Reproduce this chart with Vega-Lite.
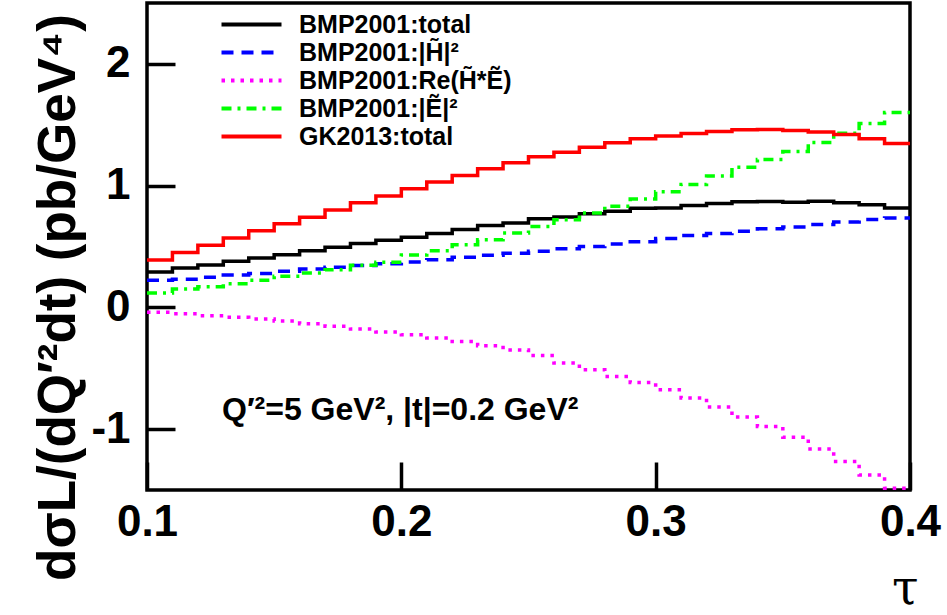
{
  "$schema": "https://vega.github.io/schema/vega-lite/v6.json",
  "width": 763,
  "height": 487,
  "autosize": {"type": "none"},
  "padding": {"left": 147, "top": 3, "right": 37, "bottom": 125},
  "background": "white",
  "config": {
    "view": {"stroke": "black", "strokeWidth": 3.5},
    "font": "Liberation Sans"
  },
  "datasets": {
    "curves": [
      {"series": "BMP2001:total", "tau": 0.10, "v": 0.290},
      {"series": "BMP2001:total", "tau": 0.11, "v": 0.324},
      {"series": "BMP2001:total", "tau": 0.12, "v": 0.349},
      {"series": "BMP2001:total", "tau": 0.13, "v": 0.378},
      {"series": "BMP2001:total", "tau": 0.14, "v": 0.406},
      {"series": "BMP2001:total", "tau": 0.15, "v": 0.433},
      {"series": "BMP2001:total", "tau": 0.16, "v": 0.466},
      {"series": "BMP2001:total", "tau": 0.17, "v": 0.493},
      {"series": "BMP2001:total", "tau": 0.18, "v": 0.524},
      {"series": "BMP2001:total", "tau": 0.19, "v": 0.551},
      {"series": "BMP2001:total", "tau": 0.20, "v": 0.575},
      {"series": "BMP2001:total", "tau": 0.21, "v": 0.606},
      {"series": "BMP2001:total", "tau": 0.22, "v": 0.639},
      {"series": "BMP2001:total", "tau": 0.23, "v": 0.672},
      {"series": "BMP2001:total", "tau": 0.24, "v": 0.694},
      {"series": "BMP2001:total", "tau": 0.25, "v": 0.727},
      {"series": "BMP2001:total", "tau": 0.26, "v": 0.743},
      {"series": "BMP2001:total", "tau": 0.27, "v": 0.770},
      {"series": "BMP2001:total", "tau": 0.28, "v": 0.790},
      {"series": "BMP2001:total", "tau": 0.29, "v": 0.815},
      {"series": "BMP2001:total", "tau": 0.30, "v": 0.817},
      {"series": "BMP2001:total", "tau": 0.31, "v": 0.836},
      {"series": "BMP2001:total", "tau": 0.32, "v": 0.853},
      {"series": "BMP2001:total", "tau": 0.33, "v": 0.868},
      {"series": "BMP2001:total", "tau": 0.34, "v": 0.870},
      {"series": "BMP2001:total", "tau": 0.35, "v": 0.864},
      {"series": "BMP2001:total", "tau": 0.36, "v": 0.872},
      {"series": "BMP2001:total", "tau": 0.37, "v": 0.860},
      {"series": "BMP2001:total", "tau": 0.38, "v": 0.842},
      {"series": "BMP2001:total", "tau": 0.39, "v": 0.817},
      {"series": "BMP2001:total", "tau": 0.40, "v": 0.817},

      {"series": "BMP2001:|H\u0303|\u00b2", "tau": 0.10, "v": 0.222},
      {"series": "BMP2001:|H\u0303|\u00b2", "tau": 0.11, "v": 0.232},
      {"series": "BMP2001:|H\u0303|\u00b2", "tau": 0.12, "v": 0.247},
      {"series": "BMP2001:|H\u0303|\u00b2", "tau": 0.13, "v": 0.265},
      {"series": "BMP2001:|H\u0303|\u00b2", "tau": 0.14, "v": 0.279},
      {"series": "BMP2001:|H\u0303|\u00b2", "tau": 0.15, "v": 0.296},
      {"series": "BMP2001:|H\u0303|\u00b2", "tau": 0.16, "v": 0.316},
      {"series": "BMP2001:|H\u0303|\u00b2", "tau": 0.17, "v": 0.330},
      {"series": "BMP2001:|H\u0303|\u00b2", "tau": 0.18, "v": 0.344},
      {"series": "BMP2001:|H\u0303|\u00b2", "tau": 0.19, "v": 0.359},
      {"series": "BMP2001:|H\u0303|\u00b2", "tau": 0.20, "v": 0.372},
      {"series": "BMP2001:|H\u0303|\u00b2", "tau": 0.21, "v": 0.392},
      {"series": "BMP2001:|H\u0303|\u00b2", "tau": 0.22, "v": 0.411},
      {"series": "BMP2001:|H\u0303|\u00b2", "tau": 0.23, "v": 0.428},
      {"series": "BMP2001:|H\u0303|\u00b2", "tau": 0.24, "v": 0.445},
      {"series": "BMP2001:|H\u0303|\u00b2", "tau": 0.25, "v": 0.462},
      {"series": "BMP2001:|H\u0303|\u00b2", "tau": 0.26, "v": 0.481},
      {"series": "BMP2001:|H\u0303|\u00b2", "tau": 0.27, "v": 0.500},
      {"series": "BMP2001:|H\u0303|\u00b2", "tau": 0.28, "v": 0.520},
      {"series": "BMP2001:|H\u0303|\u00b2", "tau": 0.29, "v": 0.540},
      {"series": "BMP2001:|H\u0303|\u00b2", "tau": 0.30, "v": 0.565},
      {"series": "BMP2001:|H\u0303|\u00b2", "tau": 0.31, "v": 0.590},
      {"series": "BMP2001:|H\u0303|\u00b2", "tau": 0.32, "v": 0.606},
      {"series": "BMP2001:|H\u0303|\u00b2", "tau": 0.33, "v": 0.625},
      {"series": "BMP2001:|H\u0303|\u00b2", "tau": 0.34, "v": 0.645},
      {"series": "BMP2001:|H\u0303|\u00b2", "tau": 0.35, "v": 0.661},
      {"series": "BMP2001:|H\u0303|\u00b2", "tau": 0.36, "v": 0.680},
      {"series": "BMP2001:|H\u0303|\u00b2", "tau": 0.37, "v": 0.702},
      {"series": "BMP2001:|H\u0303|\u00b2", "tau": 0.38, "v": 0.721},
      {"series": "BMP2001:|H\u0303|\u00b2", "tau": 0.39, "v": 0.735},
      {"series": "BMP2001:|H\u0303|\u00b2", "tau": 0.40, "v": 0.735},

      {"series": "BMP2001:Re(H\u0303*\u1ebc)", "tau": 0.10, "v": -0.041},
      {"series": "BMP2001:Re(H\u0303*\u1ebc)", "tau": 0.11, "v": -0.052},
      {"series": "BMP2001:Re(H\u0303*\u1ebc)", "tau": 0.12, "v": -0.068},
      {"series": "BMP2001:Re(H\u0303*\u1ebc)", "tau": 0.13, "v": -0.082},
      {"series": "BMP2001:Re(H\u0303*\u1ebc)", "tau": 0.14, "v": -0.095},
      {"series": "BMP2001:Re(H\u0303*\u1ebc)", "tau": 0.15, "v": -0.112},
      {"series": "BMP2001:Re(H\u0303*\u1ebc)", "tau": 0.16, "v": -0.134},
      {"series": "BMP2001:Re(H\u0303*\u1ebc)", "tau": 0.17, "v": -0.156},
      {"series": "BMP2001:Re(H\u0303*\u1ebc)", "tau": 0.18, "v": -0.178},
      {"series": "BMP2001:Re(H\u0303*\u1ebc)", "tau": 0.19, "v": -0.202},
      {"series": "BMP2001:Re(H\u0303*\u1ebc)", "tau": 0.20, "v": -0.224},
      {"series": "BMP2001:Re(H\u0303*\u1ebc)", "tau": 0.21, "v": -0.252},
      {"series": "BMP2001:Re(H\u0303*\u1ebc)", "tau": 0.22, "v": -0.280},
      {"series": "BMP2001:Re(H\u0303*\u1ebc)", "tau": 0.23, "v": -0.315},
      {"series": "BMP2001:Re(H\u0303*\u1ebc)", "tau": 0.24, "v": -0.350},
      {"series": "BMP2001:Re(H\u0303*\u1ebc)", "tau": 0.25, "v": -0.395},
      {"series": "BMP2001:Re(H\u0303*\u1ebc)", "tau": 0.26, "v": -0.457},
      {"series": "BMP2001:Re(H\u0303*\u1ebc)", "tau": 0.27, "v": -0.512},
      {"series": "BMP2001:Re(H\u0303*\u1ebc)", "tau": 0.28, "v": -0.567},
      {"series": "BMP2001:Re(H\u0303*\u1ebc)", "tau": 0.29, "v": -0.617},
      {"series": "BMP2001:Re(H\u0303*\u1ebc)", "tau": 0.30, "v": -0.677},
      {"series": "BMP2001:Re(H\u0303*\u1ebc)", "tau": 0.31, "v": -0.745},
      {"series": "BMP2001:Re(H\u0303*\u1ebc)", "tau": 0.32, "v": -0.819},
      {"series": "BMP2001:Re(H\u0303*\u1ebc)", "tau": 0.33, "v": -0.900},
      {"series": "BMP2001:Re(H\u0303*\u1ebc)", "tau": 0.34, "v": -0.978},
      {"series": "BMP2001:Re(H\u0303*\u1ebc)", "tau": 0.35, "v": -1.066},
      {"series": "BMP2001:Re(H\u0303*\u1ebc)", "tau": 0.36, "v": -1.164},
      {"series": "BMP2001:Re(H\u0303*\u1ebc)", "tau": 0.37, "v": -1.266},
      {"series": "BMP2001:Re(H\u0303*\u1ebc)", "tau": 0.38, "v": -1.376},
      {"series": "BMP2001:Re(H\u0303*\u1ebc)", "tau": 0.39, "v": -1.485},
      {"series": "BMP2001:Re(H\u0303*\u1ebc)", "tau": 0.40, "v": -1.485},

      {"series": "BMP2001:|\u1ebc|\u00b2", "tau": 0.10, "v": 0.118},
      {"series": "BMP2001:|\u1ebc|\u00b2", "tau": 0.11, "v": 0.150},
      {"series": "BMP2001:|\u1ebc|\u00b2", "tau": 0.12, "v": 0.170},
      {"series": "BMP2001:|\u1ebc|\u00b2", "tau": 0.13, "v": 0.195},
      {"series": "BMP2001:|\u1ebc|\u00b2", "tau": 0.14, "v": 0.222},
      {"series": "BMP2001:|\u1ebc|\u00b2", "tau": 0.15, "v": 0.255},
      {"series": "BMP2001:|\u1ebc|\u00b2", "tau": 0.16, "v": 0.283},
      {"series": "BMP2001:|\u1ebc|\u00b2", "tau": 0.17, "v": 0.310},
      {"series": "BMP2001:|\u1ebc|\u00b2", "tau": 0.18, "v": 0.345},
      {"series": "BMP2001:|\u1ebc|\u00b2", "tau": 0.19, "v": 0.370},
      {"series": "BMP2001:|\u1ebc|\u00b2", "tau": 0.20, "v": 0.430},
      {"series": "BMP2001:|\u1ebc|\u00b2", "tau": 0.21, "v": 0.465},
      {"series": "BMP2001:|\u1ebc|\u00b2", "tau": 0.22, "v": 0.515},
      {"series": "BMP2001:|\u1ebc|\u00b2", "tau": 0.23, "v": 0.555},
      {"series": "BMP2001:|\u1ebc|\u00b2", "tau": 0.24, "v": 0.610},
      {"series": "BMP2001:|\u1ebc|\u00b2", "tau": 0.25, "v": 0.665},
      {"series": "BMP2001:|\u1ebc|\u00b2", "tau": 0.26, "v": 0.720},
      {"series": "BMP2001:|\u1ebc|\u00b2", "tau": 0.27, "v": 0.775},
      {"series": "BMP2001:|\u1ebc|\u00b2", "tau": 0.28, "v": 0.830},
      {"series": "BMP2001:|\u1ebc|\u00b2", "tau": 0.29, "v": 0.890},
      {"series": "BMP2001:|\u1ebc|\u00b2", "tau": 0.30, "v": 0.950},
      {"series": "BMP2001:|\u1ebc|\u00b2", "tau": 0.31, "v": 1.010},
      {"series": "BMP2001:|\u1ebc|\u00b2", "tau": 0.32, "v": 1.080},
      {"series": "BMP2001:|\u1ebc|\u00b2", "tau": 0.33, "v": 1.150},
      {"series": "BMP2001:|\u1ebc|\u00b2", "tau": 0.34, "v": 1.215},
      {"series": "BMP2001:|\u1ebc|\u00b2", "tau": 0.35, "v": 1.280},
      {"series": "BMP2001:|\u1ebc|\u00b2", "tau": 0.36, "v": 1.355},
      {"series": "BMP2001:|\u1ebc|\u00b2", "tau": 0.37, "v": 1.430},
      {"series": "BMP2001:|\u1ebc|\u00b2", "tau": 0.38, "v": 1.510},
      {"series": "BMP2001:|\u1ebc|\u00b2", "tau": 0.39, "v": 1.600},
      {"series": "BMP2001:|\u1ebc|\u00b2", "tau": 0.40, "v": 1.600},

      {"series": "GK2013:total", "tau": 0.10, "v": 0.390},
      {"series": "GK2013:total", "tau": 0.11, "v": 0.450},
      {"series": "GK2013:total", "tau": 0.12, "v": 0.510},
      {"series": "GK2013:total", "tau": 0.13, "v": 0.570},
      {"series": "GK2013:total", "tau": 0.14, "v": 0.630},
      {"series": "GK2013:total", "tau": 0.15, "v": 0.686},
      {"series": "GK2013:total", "tau": 0.16, "v": 0.740},
      {"series": "GK2013:total", "tau": 0.17, "v": 0.800},
      {"series": "GK2013:total", "tau": 0.18, "v": 0.860},
      {"series": "GK2013:total", "tau": 0.19, "v": 0.915},
      {"series": "GK2013:total", "tau": 0.20, "v": 0.975},
      {"series": "GK2013:total", "tau": 0.21, "v": 1.030},
      {"series": "GK2013:total", "tau": 0.22, "v": 1.083},
      {"series": "GK2013:total", "tau": 0.23, "v": 1.138},
      {"series": "GK2013:total", "tau": 0.24, "v": 1.187},
      {"series": "GK2013:total", "tau": 0.25, "v": 1.237},
      {"series": "GK2013:total", "tau": 0.26, "v": 1.275},
      {"series": "GK2013:total", "tau": 0.27, "v": 1.316},
      {"series": "GK2013:total", "tau": 0.28, "v": 1.352},
      {"series": "GK2013:total", "tau": 0.29, "v": 1.385},
      {"series": "GK2013:total", "tau": 0.30, "v": 1.408},
      {"series": "GK2013:total", "tau": 0.31, "v": 1.428},
      {"series": "GK2013:total", "tau": 0.32, "v": 1.445},
      {"series": "GK2013:total", "tau": 0.33, "v": 1.458},
      {"series": "GK2013:total", "tau": 0.34, "v": 1.460},
      {"series": "GK2013:total", "tau": 0.35, "v": 1.452},
      {"series": "GK2013:total", "tau": 0.36, "v": 1.440},
      {"series": "GK2013:total", "tau": 0.37, "v": 1.420},
      {"series": "GK2013:total", "tau": 0.38, "v": 1.385},
      {"series": "GK2013:total", "tau": 0.39, "v": 1.346},
      {"series": "GK2013:total", "tau": 0.40, "v": 1.346}
    ],
    "note": [
      {"tau": 0.1295, "v": -0.845, "label": "Q\u2032\u00b2=5 GeV\u00b2, |t|=0.2 GeV\u00b2"}
    ]
  },
  "layer": [
    {
      "mark": {"type": "rule", "color": "black", "strokeWidth": 1.2, "strokeDash": [6, 2, 1, 2]},
      "encoding": {"y": {"datum": 0, "type": "quantitative"}}
    },
    {
      "data": {"name": "curves"},
      "mark": {"type": "line", "interpolate": "step-after", "strokeWidth": 3.5, "clip": true},
      "encoding": {
        "x": {
          "field": "tau", "type": "quantitative",
          "scale": {"domain": [0.1, 0.4], "nice": false, "zero": false},
          "axis": {
            "values": [0.1, 0.2, 0.3, 0.4], "format": ".1f",
            "domain": false, "grid": false,
            "tickSize": -28, "tickWidth": 3.5, "tickColor": "black",
            "labelFont": "Liberation Sans", "labelFontSize": 44, "labelFontWeight": "bold",
            "labelColor": "black", "labelPadding": 38, "labelFlush": false,
            "title": "\u03c4", "titleFont": "DejaVu Serif", "titleFontSize": 48,
            "titleFontWeight": "normal", "titleColor": "black",
            "titleX": 771, "titleY": 123, "titleAlign": "right", "titleBaseline": "bottom"
          }
        },
        "y": {
          "field": "v", "type": "quantitative",
          "scale": {"domain": [-1.5, 2.5], "nice": false, "zero": false},
          "axis": {
            "values": [-1, 0, 1, 2], "format": "d",
            "labelExpr": "replace(datum.label, '\u2212', '-')",
            "domain": false, "grid": false,
            "tickSize": -28, "tickWidth": 3.5, "tickColor": "black",
            "labelFont": "Liberation Sans", "labelFontSize": 44, "labelFontWeight": "bold",
            "labelColor": "black", "labelPadding": 45, "labelFlush": false,
            "title": "d\u03c3L/(dQ\u2032\u00b2dt) (pb/GeV\u2074)",
            "titleFont": "Liberation Sans", "titleFontSize": 53, "titleFontWeight": "bold",
            "titleColor": "black",
            "titleX": -73, "titleY": 294, "titleAlign": "center", "titleBaseline": "alphabetic"
          }
        },
        "color": {
          "field": "series", "type": "nominal",
          "scale": {
            "domain": ["BMP2001:total", "BMP2001:|H\u0303|\u00b2", "BMP2001:Re(H\u0303*\u1ebc)", "BMP2001:|\u1ebc|\u00b2", "GK2013:total"],
            "range": ["#000000", "#0000ff", "#ff00ff", "#00ff00", "#ff0000"]
          },
          "legend": {
            "title": null, "orient": "none", "legendX": 92, "legendY": 9,
            "symbolType": "M-4,0H4", "symbolSize": 225, "symbolStrokeWidth": 4,
            "labelFont": "Liberation Sans", "labelFontSize": 25, "labelFontWeight": "bold",
            "labelColor": "black", "labelOffset": 35, "rowPadding": 2, "padding": 0,
            "labelLimit": 400
          }
        },
        "strokeDash": {
          "field": "series", "type": "nominal",
          "scale": {
            "domain": ["BMP2001:total", "BMP2001:|H\u0303|\u00b2", "BMP2001:Re(H\u0303*\u1ebc)", "BMP2001:|\u1ebc|\u00b2", "GK2013:total"],
            "range": [[1, 0], [12, 8], [3.5, 6], [10, 6, 3, 6], [1, 0]]
          },
          "legend": {
            "title": null, "orient": "none", "legendX": 92, "legendY": 9,
            "symbolType": "M-4,0H4", "symbolSize": 225, "symbolStrokeWidth": 4,
            "labelFont": "Liberation Sans", "labelFontSize": 25, "labelFontWeight": "bold",
            "labelColor": "black", "labelOffset": 35, "rowPadding": 2, "padding": 0,
            "labelLimit": 400
          }
        }
      }
    },
    {
      "data": {"name": "note"},
      "mark": {"type": "text", "align": "left", "baseline": "middle", "font": "Liberation Sans", "fontSize": 32, "fontWeight": "bold", "color": "black"},
      "encoding": {
        "x": {"field": "tau", "type": "quantitative"},
        "y": {"field": "v", "type": "quantitative"},
        "text": {"field": "label"}
      }
    }
  ]
}
